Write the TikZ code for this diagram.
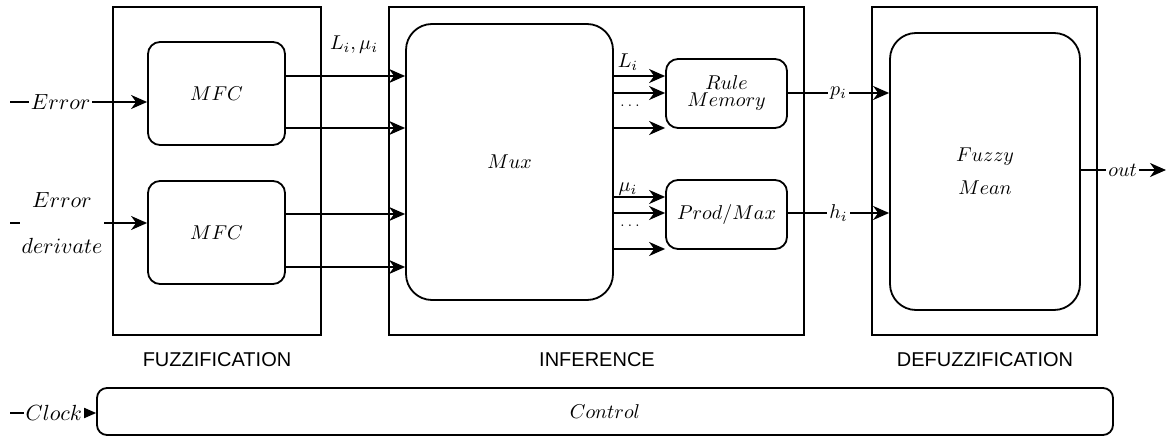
\documentclass[tikz,border=0pt]{standalone}
\usepackage{fontspec}
\newfontfamily\capfont{Liberation Sans}
\usetikzlibrary{arrows.meta,fit}
\begin{document}
\begin{tikzpicture}[x=0.5pt,y=-0.5pt,
  font=\fontsize{10}{12}\selectfont,
  frame/.style={draw, line width=0.9pt, inner sep=0pt},
  blk/.style={frame, rounded corners=6pt},
  bigblk/.style={frame, rounded corners=13pt},
  arr/.style={draw, line width=0.9pt, -{Stealth[length=8pt,width=7pt,inset=2.5pt]}},
  lbl/.style={fill=white, inner sep=1pt},
  inlbl/.style={lbl, font=\fontsize{11}{13}\selectfont},
  sect/.style={font=\capfont\fontsize{10}{12}\selectfont},
  tag/.style={inner sep=1pt, font=\fontsize{10}{12}\selectfont}]
\useasboundingbox (0,0) rectangle (1166,438);

% stage frames
\node[frame, fit={(113,7) (321,335)}] (fuz) {};
\node[frame, fit={(389,7) (804,335)}] (inf) {};
\node[frame, fit={(872,7) (1097,335)}] (def) {};

% blocks
\node[blk, fit={(148,42) (285,145)}] (mfc1) {};
\node[blk, fit={(148,181) (285,284)}] (mfc2) {};
\node[bigblk, fit={(406,24) (613,300)}] (mux) {};
\node[blk, fit={(666,59) (787,128)}] (rule) {};
\node[blk, fit={(666,180) (787,249)}] (prod) {};
\node[bigblk, fit={(890,33) (1080,310)}] (mean) {};
\node[blk, rounded corners=5pt, fit={(97,388) (1113,435)}] (ctrl) {};

% block texts
\node[tag] (tmfc1) at (mfc1) {$MFC$};
\node[tag] (tmfc2) at (mfc2) {$MFC$};
\node[tag] (tmux) at (mux) {$Mux$};
\node[tag, align=center] (trule) at (rule) {$Rule$\\[-3.5pt]$Memory$};
\node[tag] (tprod) at (prod) {$Prod/Max$};
\node[tag, align=center] (tmean) at (mean) {$Fuzzy$\\[4.5pt]$Mean$};
\node[tag] (tctrl) at (ctrl) {$Control$};

% stage captions
\node[sect] (capfuz) at (217,360) {FUZZIFICATION};
\node[sect] (capinf) at (597,360) {INFERENCE};
\node[sect] (capdef) at (985,360) {DEFUZZIFICATION};

% signal rows
\coordinate (y1) at (0,102);
\coordinate (y2) at (0,223);
\coordinate (a1) at (0,76);
\coordinate (a2) at (0,128);
\coordinate (a3) at (0,214);
\coordinate (a4) at (0,267);
\coordinate (b2) at (0,93);
\coordinate (c2) at (0,213);
\coordinate (c1) at (0,197);
\coordinate (c3) at (0,249);
\coordinate (yo) at (0,170);
\coordinate (yc) at (0,413);

% external inputs
\coordinate (inErr) at (10,102);
\coordinate (inDer) at (10,223);
\coordinate (inClk) at (10,413);
\coordinate (outEnd) at (1166,170);

\draw[arr] (inErr) -- (mfc1.west |- y1) node[inlbl, pos=0.37] {$Error$};
\draw[arr] (inDer) -- (mfc2.west |- y2);
\node[inlbl, align=center] (derlbl) at (62,223) {$Error$\\[10pt]$derivate$};
\draw[arr] (inClk) -- (ctrl.west |- yc) node[inlbl, pos=0.51] {$Clock$};

% fuzzifier outputs into the multiplexer
\draw[arr] (mfc1.east |- a1) -- (mux.west |- a1);
\draw[arr] (mfc1.east |- a2) -- (mux.west |- a2);
\draw[arr] (mfc2.east |- a3) -- (mux.west |- a3);
\draw[arr] (mfc2.east |- a4) -- (mux.west |- a4);
\node[tag] (limu) at (354,45) {$L_i,\mu_i$};

% multiplexer to rule memory and prod/max
\draw[arr] (mux.east |- a1) -- (rule.west |- a1);
\draw[arr] (mux.east |- b2) -- (rule.west |- b2);
\draw[arr] (mux.east |- a2) -- (rule.west |- a2);
\node[tag] (li) at (628,62) {$L_i$};
\node[tag] (dots1) at (630,106) {\scriptsize$\ldots$};
\draw[arr] (mux.east |- c1) -- (prod.west |- c1);
\draw[arr] (mux.east |- c2) -- (prod.west |- c2);
\draw[arr] (mux.east |- c3) -- (prod.west |- c3);
\node[tag] (mui) at (628,189) {$\mu_i$};
\node[tag] (dots2) at (630,226) {\scriptsize$\ldots$};

% inference to defuzzifier
\draw[arr] (rule.east |- b2) -- (mean.west |- b2) node[lbl, pos=0.5] {$p_i$};
\draw[arr] (prod.east |- c2) -- (mean.west |- c2) node[lbl, pos=0.5] {$h_i$};

% crisp output
\draw[arr] (mean.east |- yo) -- (outEnd) node[lbl, pos=0.49] {$out$};
\end{tikzpicture}
\end{document}
